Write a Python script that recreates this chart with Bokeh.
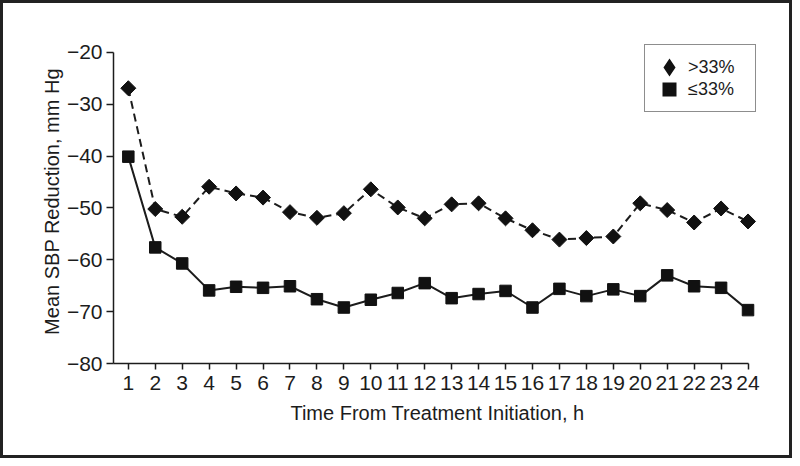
from bokeh.plotting import figure
from bokeh.models import ColumnDataSource, FixedTicker, Legend, LegendItem, Range1d
from bokeh.embed import file_html
from bokeh.resources import INLINE
import math

# ---- data ----
hours = [1, 2, 3, 4, 5, 6, 7, 8, 9, 10, 11, 12, 13, 14, 15, 16, 17, 18, 19, 20, 21, 22, 23, 24]
above_33 = [-26.9, -50.2, -51.7, -45.9, -47.2, -48.0, -50.8, -51.9, -51.0, -46.4, -49.9, -52.0,
            -49.3, -49.1, -52.0, -54.3, -56.1, -55.8, -55.5, -49.1, -50.4, -52.8, -50.1, -52.6]
upto_33 = [-40.1, -57.6, -60.7, -65.9, -65.2, -65.4, -65.1, -67.6, -69.2, -67.7, -66.4, -64.5,
           -67.4, -66.6, -66.0, -69.2, -65.6, -67.0, -65.7, -67.0, -63.0, -65.1, -65.4, -69.7]
series_labels = [">33%", "\u226433%"]
x_ticks = hours
y_ticks = [-80, -70, -60, -50, -40, -30, -20]
y_tick_labels = ["\u221280", "\u221270", "\u221260", "\u221250", "\u221240", "\u221230", "\u221220"]
x_title = "Time From Treatment Initiation, h"
y_title = "Mean SBP Reduction, mm Hg"

FONT = "Liberation Sans"
INK = "#1c1c1c"

src = ColumnDataSource(dict(h=hours, a=above_33, b=upto_33))

p = figure(width=792, height=458, output_backend="svg", toolbar_location=None,
           x_range=Range1d(0.45, 24.5), y_range=Range1d(-80, -17.5),
           min_border_left=113, min_border_right=31, min_border_top=39, min_border_bottom=95)
p.outline_line_color = None
p.grid.visible = False
p.border_fill_alpha = 0.0
p.styles = {"box-shadow": "inset 0 0 0 3px #222"}

# lines and markers
p.line("h", "a", source=src, line_color=INK, line_width=2, line_dash="8 5")
p.line("h", "b", source=src, line_color=INK, line_width=2)
p.scatter("h", "a", source=src, marker="square", angle=math.pi / 4, size=10.6,
          fill_color="#111111", line_color="#111111")
p.scatter("h", "b", source=src, marker="square", size=11.5,
          fill_color="#111111", line_color="#111111")

# legend swatches (hidden in plot, drawn only in legend)
leg_a = p.scatter("h", "a", source=src, marker="diamond", size=10, fill_color="#111111",
                  line_color="#111111", line_width=5.2, line_join="miter", visible=False)
leg_b = p.scatter("h", "b", source=src, marker="square", size=10, fill_color="#111111",
                  line_color="#111111", line_width=5.2, line_join="miter", visible=False)

# axes
xa = p.xaxis[0]
xa.ticker = FixedTicker(ticks=x_ticks)
xa.bounds = (0.45, 24)
ya = p.yaxis[0]
ya.ticker = FixedTicker(ticks=y_ticks)
ya.bounds = (-80, -20)
ya.major_label_overrides = {t: l for t, l in zip(y_ticks, y_tick_labels)}
xa.axis_label = x_title
ya.axis_label = y_title
for ax in (xa, ya):
    ax.axis_line_color = INK
    ax.axis_line_width = 1.5
    ax.major_tick_line_color = INK
    ax.major_tick_line_width = 1.5
    ax.major_tick_in = 0
    ax.minor_tick_line_color = None
    ax.major_label_text_font = FONT
    ax.major_label_text_font_size = "21px"
    ax.major_label_text_color = INK
    ax.axis_label_text_font = FONT
    ax.axis_label_text_font_size = "20px"
    ax.axis_label_text_font_style = "normal"
    ax.axis_label_text_color = INK
xa.major_tick_out = 6
ya.major_tick_out = 7
xa.major_label_standoff = 6
ya.major_label_standoff = 4
xa.axis_label_standoff = 9
ya.axis_label_standoff = 1

legend = Legend(items=[LegendItem(label=series_labels[0], renderers=[leg_a]),
                       LegendItem(label=series_labels[1], renderers=[leg_b])],
                location="top_right", margin=5, padding=11, spacing=0,
                glyph_width=26, glyph_height=22, label_standoff=6, label_width=56,
                label_height=22,
                label_text_font=FONT, label_text_font_size="18px", label_text_color=INK,
                border_line_color=INK, border_line_width=1.5, background_fill_alpha=1.0)
p.add_layout(legend)

open("out.html", "w").write(file_html(p, INLINE))
